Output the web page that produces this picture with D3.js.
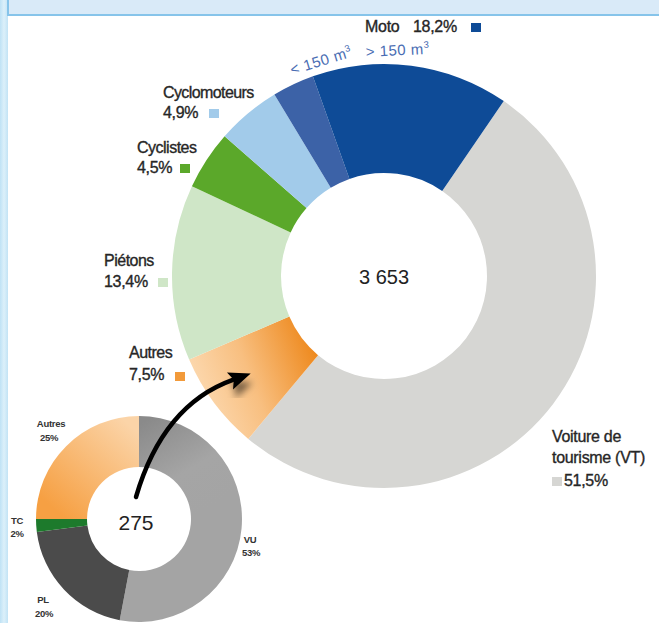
<!DOCTYPE html>
<html>
<head>
<meta charset="utf-8">
<script src="https://cdn.jsdelivr.net/npm/d3@7"></script>
<style>
  html, body { margin: 0; padding: 0; background: #fff; }
  svg { display: block; font-family: "Liberation Sans", Arial, Helvetica, sans-serif; }
</style>
</head>
<body>
<svg id="chart" width="659" height="623"></svg>
<script>
// ---- data ----
const mainCategories = ["Voiture de tourisme (VT)", "Autres", "Piétons", "Cyclistes", "Cyclomoteurs", "Moto < 150 m³", "Moto > 150 m³"];
const mainValues = [51.5, 7.5, 13.4, 4.5, 4.9, 3.2, 15.0];
const mainTotal = "3 653";
const mainLabels = ["Moto", "Cyclomoteurs", "Cyclistes", "Piétons", "Autres", "Voiture de", "tourisme (VT)"];
const mainPcts = ["18,2%", "4,9%", "4,5%", "13,4%", "7,5%", "51,5%"];
const motoSubLabels = ["< 150 m", "> 150 m"];

const smallCategories = ["VU", "PL", "TC", "Autres"];
const smallValues = [53, 20, 2, 25];
const smallPcts = ["53%", "20%", "2%", "25%"];
const smallTotal = "275";

// ---- drawing ----
const svg = d3.select("#chart");
const defs = svg.append("defs");

// frame
const stripGrad = defs.append("linearGradient").attr("id", "strip").attr("x1", 0).attr("x2", 1).attr("y1", 0).attr("y2", 0);
stripGrad.append("stop").attr("offset", 0).attr("stop-color", "#bfe2f5");
stripGrad.append("stop").attr("offset", 0.5).attr("stop-color", "#dcf0fa");
stripGrad.append("stop").attr("offset", 1).attr("stop-color", "#c2e3f5");
svg.append("rect").attr("x", 0).attr("y", 0).attr("width", 8).attr("height", 623).attr("fill", "url(#strip)");
svg.append("rect").attr("x", 8).attr("y", -2).attr("width", 660).attr("height", 17)
  .attr("fill", "#d9eaf8").attr("stroke", "#86c4ea").attr("stroke-width", 2);

// main donut geometry
const cx = 384, cy = 276, R = 212, r = 103;

// gradient for Autres (coordinates relative to donut centre)
const autresGrad = defs.append("linearGradient").attr("id", "autresMain").attr("gradientUnits", "userSpaceOnUse")
  .attr("x1", 195 - cx).attr("y1", 390 - cy).attr("x2", 312 - cx).attr("y2", 345 - cy);
autresGrad.append("stop").attr("offset", 0).attr("stop-color", "#fcd9b0");
autresGrad.append("stop").attr("offset", 0.45).attr("stop-color", "#f8bf80");
autresGrad.append("stop").attr("offset", 1).attr("stop-color", "#ee8a1f");

const mainColors = ["#d6d6d3", "url(#autresMain)", "#cfe6c7", "#5ba82a", "#a2cbea", "#3c62a7", "#0e4b97"];

const startA = 34.4 * Math.PI / 180;
const pieMain = d3.pie().sort(null).value(d => d).startAngle(startA).endAngle(startA + 2 * Math.PI);
const arcMain = d3.arc().innerRadius(r).outerRadius(R);
const gMain = svg.append("g").attr("transform", `translate(${cx},${cy})`);
gMain.selectAll("path").data(pieMain(mainValues)).join("path")
  .attr("d", arcMain).attr("fill", (d, i) => mainColors[i]);

gMain.append("text").attr("x", 0).attr("y", 8).attr("text-anchor", "middle")
  .attr("font-size", 20).attr("fill", "#222").text(mainTotal);

// labels for main donut
const lab = svg.append("g").attr("fill", "#262626").attr("stroke", "#262626").attr("stroke-width", 0.35).attr("font-size", 16);
function label(x, y, txt, ls) {
  lab.append("text").attr("x", x).attr("y", y).attr("letter-spacing", ls || -0.4).text(txt);
}
function sq(x, y, color) {
  lab.append("rect").attr("x", x).attr("y", y).attr("width", 10).attr("height", 9).attr("fill", color).attr("stroke", "none");
}
label(365, 32, mainLabels[0], -0.3);
label(413, 32, mainPcts[0], -0.3);
sq(471, 23, "#0e4b97");

label(163, 98, mainLabels[1], -0.6);
label(163, 118, mainPcts[1], -0.3);
sq(209, 109, "#a2cbea");

label(137, 153, mainLabels[2], -0.5);
label(137, 173, mainPcts[2], -0.3);
sq(180, 164, "#5ba82a");

label(104, 266, mainLabels[3], -0.5);
label(104, 287, mainPcts[3], -0.3);
sq(158, 278, "#cfe6c7");

label(129, 358, mainLabels[4], -0.5);
label(129, 380, mainPcts[4], -0.3);
sq(175, 372, "#f29a3a");

label(552, 442, mainLabels[5], -0.3);
label(552, 463, mainLabels[6], -0.3);
sq(552, 477, "#d6d6d3");
label(564, 486, mainPcts[5], -0.3);

// Moto sub labels
const subG = svg.append("g").attr("fill", "#4a6db3").attr("font-size", 15);
[[292, 75, -17], [366, 57, -3]].forEach((p, i) => {
  const t = subG.append("text").attr("transform", `translate(${p[0]},${p[1]}) rotate(${p[2]})`)
    .attr("letter-spacing", 0.5);
  t.append("tspan").text(motoSubLabels[i]);
  t.append("tspan").attr("font-size", 9.5).attr("dy", -6).text("3");
});

// small donut
const scx = 139, scy = 519, sR = 103, sr = 52;
const vuGrad = defs.append("linearGradient").attr("id", "vuGrad").attr("gradientUnits", "userSpaceOnUse")
  .attr("x1", 150 - scx).attr("y1", 418 - scy).attr("x2", 205 - scx).attr("y2", 510 - scy);
vuGrad.append("stop").attr("offset", 0).attr("stop-color", "#8a8a8a");
vuGrad.append("stop").attr("offset", 0.6).attr("stop-color", "#a5a5a5");
vuGrad.append("stop").attr("offset", 1).attr("stop-color", "#a4a4a4");
const auGrad = defs.append("linearGradient").attr("id", "auSmall").attr("gradientUnits", "userSpaceOnUse")
  .attr("x1", 130 - scx).attr("y1", 425 - scy).attr("x2", 55 - scx).attr("y2", 510 - scy);
auGrad.append("stop").attr("offset", 0).attr("stop-color", "#fbd4a8");
auGrad.append("stop").attr("offset", 1).attr("stop-color", "#f6a043");
const smallColors = ["url(#vuGrad)", "#4b4b4b", "#1d7a2c", "url(#auSmall)"];

const pieSmall = d3.pie().sort(null).value(d => d);
const arcSmall = d3.arc().innerRadius(sr).outerRadius(sR);
const gSmall = svg.append("g").attr("transform", `translate(${scx},${scy})`);
gSmall.selectAll("path").data(pieSmall(smallValues)).join("path")
  .attr("d", arcSmall).attr("fill", (d, i) => smallColors[i]);
gSmall.append("text").attr("x", -3).attr("y", 11).attr("text-anchor", "middle")
  .attr("font-size", 21).attr("fill", "#222").text(smallTotal);

const sl = svg.append("g").attr("fill", "#333").attr("font-size", 9.5).attr("font-weight", "bold").attr("text-anchor", "middle");
function slabel(x, y, t) { sl.append("text").attr("x", x).attr("y", y).attr("letter-spacing", -0.3).text(t); }
slabel(51, 427, smallCategories[3]); slabel(49, 441, smallPcts[3]);
slabel(17, 524, smallCategories[2]); slabel(17, 537, smallPcts[2]);
slabel(250, 543, smallCategories[0]); slabel(251, 556, smallPcts[0]);
slabel(43, 603, smallCategories[1]); slabel(44, 617, smallPcts[1]);

// arrow
const shadow = defs.append("filter").attr("id", "shadow").attr("x", "-50%").attr("y", "-50%").attr("width", "200%").attr("height", "200%");
shadow.append("feDropShadow").attr("dx", 2).attr("dy", 9).attr("stdDeviation", 3.5).attr("flood-color", "#000").attr("flood-opacity", 0.55);
const P0 = [136, 497], P1 = [163, 405], P2 = [230, 381];
const dir = [P2[0] - P1[0], P2[1] - P1[1]];
const dl = Math.hypot(dir[0], dir[1]);
const u = [dir[0] / dl, dir[1] / dl], n = [-u[1], u[0]];
const tip = [P2[0] + 22 * u[0], P2[1] + 22 * u[1]];
const path = d3.path();
path.moveTo(P0[0], P0[1]);
path.quadraticCurveTo(P1[0], P1[1], P2[0] + 3 * u[0], P2[1] + 3 * u[1]);
svg.append("path").attr("d", path.toString()).attr("fill", "none").attr("stroke", "#000").attr("stroke-width", 4.5).attr("stroke-linecap", "round");
const head = [tip, [P2[0] + 9 * n[0], P2[1] + 9 * n[1]], [P2[0] + 4 * u[0], P2[1] + 4 * u[1]], [P2[0] - 9 * n[0], P2[1] - 9 * n[1]]];
svg.append("path").attr("d", d3.line()(head) + "Z").attr("fill", "#000").attr("filter", "url(#shadow)");
</script>
</body>
</html>
